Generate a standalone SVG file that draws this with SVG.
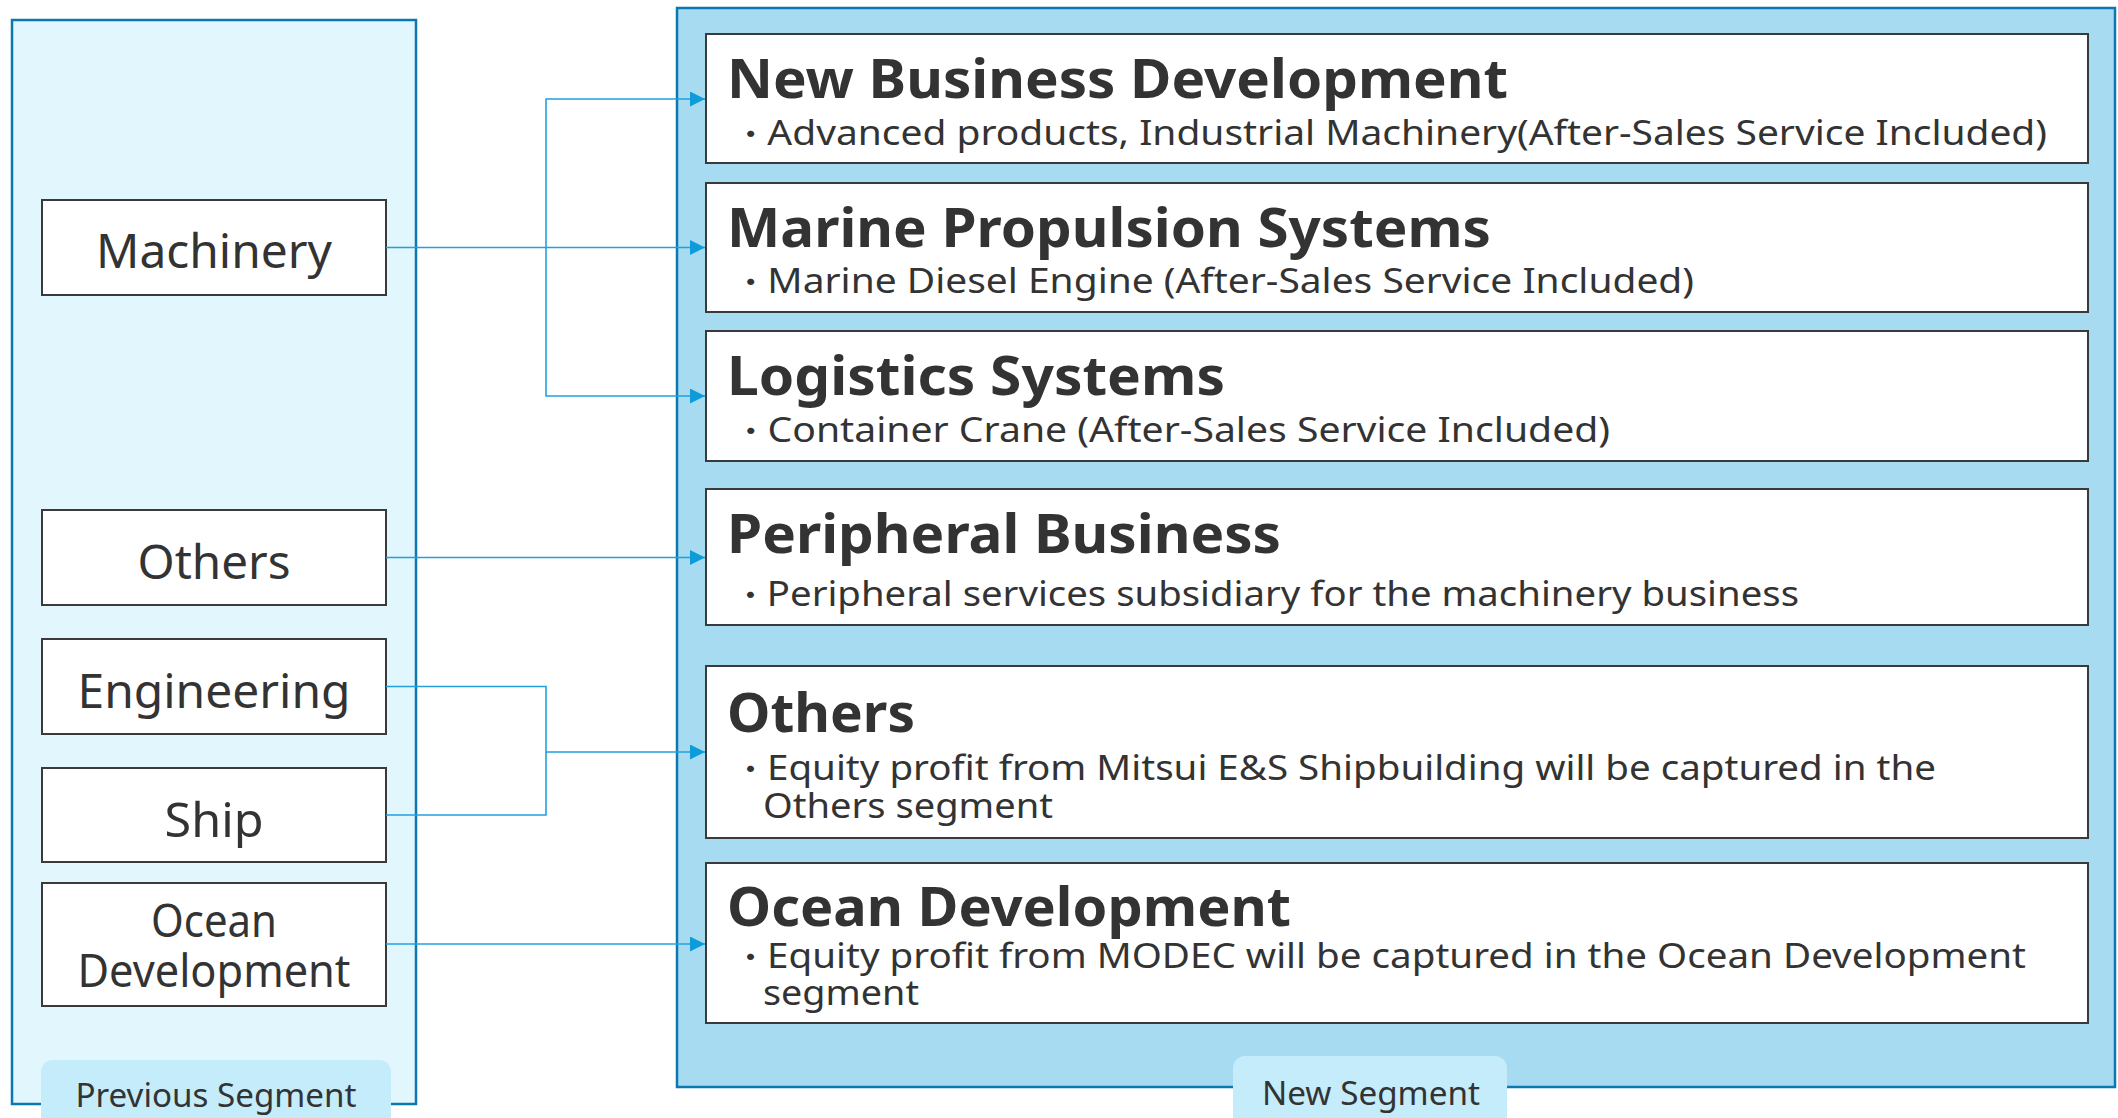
<svg xmlns="http://www.w3.org/2000/svg" width="2118" height="1118" viewBox="0 0 2118 1118">
<defs>
<style>
.panelL{fill:#E1F6FD;stroke:#0C78B1;stroke-width:2.5}
.panelR{fill:#A6DBF2;stroke:#0C78B1;stroke-width:2.5}
.tab{fill:#C4ECFB;stroke:none}
.box{fill:#FFFFFF;stroke:#3A3A3A;stroke-width:2}
.lbl{font-family:"Noto Sans","Noto Sans CJK JP",sans-serif;fill:#333333;text-anchor:middle}
.title{font-family:"Noto Sans","Noto Sans CJK JP",sans-serif;font-weight:bold;font-size:54px;fill:#333333}
.sub{font-family:"Noto Sans","Noto Sans CJK JP",sans-serif;font-size:35px;fill:#333333}
.bul{font-size:30px}
.tabt{font-family:"Noto Sans","Noto Sans CJK JP",sans-serif;font-size:32px;fill:#333333;text-anchor:middle}
.conn{fill:none;stroke:#23A0DC;stroke-width:1.6}
</style>
<marker id="arr" markerUnits="userSpaceOnUse" markerWidth="16" markerHeight="16" refX="15" refY="7.5" orient="auto">
<path d="M0,0 L15,7.5 L0,15 Z" fill="#0E9BD9"/>
</marker>
</defs>
<rect width="2118" height="1118" fill="#FFFFFF"/>

<g id="previous-segment">
<rect class="panelL" x="12" y="20" width="404" height="1084"/>
<rect class="tab" x="41" y="1060" width="350" height="80" rx="12"/>
<text class="tabt" x="216" y="1107" textLength="281" lengthAdjust="spacingAndGlyphs">Previous Segment</text>
</g>

<g id="new-segment">
<rect class="panelR" x="677" y="8" width="1438" height="1079"/>
<rect class="tab" x="1233" y="1056" width="274" height="84" rx="12"/>
<text class="tabt" x="1371" y="1105" textLength="218" lengthAdjust="spacingAndGlyphs">New Segment</text>
</g>

<g id="old-machinery">
<rect class="box" x="42" y="200" width="344" height="95"/>
<text class="lbl" x="214" y="268" font-size="48" textLength="236" lengthAdjust="spacingAndGlyphs">Machinery</text>
</g>
<g id="old-others">
<rect class="box" x="42" y="510" width="344" height="95"/>
<text class="lbl" x="214" y="579" font-size="48" textLength="153" lengthAdjust="spacingAndGlyphs">Others</text>
</g>
<g id="old-engineering">
<rect class="box" x="42" y="639" width="344" height="95"/>
<text class="lbl" x="214" y="708" font-size="48" textLength="273" lengthAdjust="spacingAndGlyphs">Engineering</text>
</g>
<g id="old-ship">
<rect class="box" x="42" y="768" width="344" height="94"/>
<text class="lbl" x="214" y="837" font-size="48" textLength="99" lengthAdjust="spacingAndGlyphs">Ship</text>
</g>
<g id="old-ocean-development">
<rect class="box" x="42" y="883" width="344" height="123"/>
<text class="lbl" font-size="45"><tspan x="214" y="937" textLength="126" lengthAdjust="spacingAndGlyphs">Ocean</tspan><tspan x="214" y="987" textLength="273" lengthAdjust="spacingAndGlyphs">Development</tspan></text>
</g>

<g id="new-business-development">
<rect class="box" x="706" y="34" width="1382" height="129"/>
<text class="title" x="727" y="98" textLength="781" lengthAdjust="spacingAndGlyphs">New Business Development</text>
<text class="sub" x="734" y="145" textLength="1313" lengthAdjust="spacingAndGlyphs"><tspan class="bul">・</tspan>Advanced products, Industrial Machinery(After-Sales Service Included)</text>
</g>
<g id="marine-propulsion-systems">
<rect class="box" x="706" y="183" width="1382" height="129"/>
<text class="title" x="727" y="247" textLength="764" lengthAdjust="spacingAndGlyphs">Marine Propulsion Systems</text>
<text class="sub" x="734" y="293" textLength="960" lengthAdjust="spacingAndGlyphs"><tspan class="bul">・</tspan>Marine Diesel Engine (After-Sales Service Included)</text>
</g>
<g id="logistics-systems">
<rect class="box" x="706" y="331" width="1382" height="130"/>
<text class="title" x="727" y="395" textLength="498" lengthAdjust="spacingAndGlyphs">Logistics Systems</text>
<text class="sub" x="734" y="442" textLength="876" lengthAdjust="spacingAndGlyphs"><tspan class="bul">・</tspan>Container Crane (After-Sales Service Included)</text>
</g>
<g id="peripheral-business">
<rect class="box" x="706" y="489" width="1382" height="136"/>
<text class="title" x="727" y="553" textLength="554" lengthAdjust="spacingAndGlyphs">Peripheral Business</text>
<text class="sub" x="734" y="606" textLength="1065" lengthAdjust="spacingAndGlyphs"><tspan class="bul">・</tspan>Peripheral services subsidiary for the machinery business</text>
</g>
<g id="new-others">
<rect class="box" x="706" y="666" width="1382" height="172"/>
<text class="title" x="727" y="732" textLength="188" lengthAdjust="spacingAndGlyphs">Others</text>
<text class="sub" x="734" y="780" textLength="1202" lengthAdjust="spacingAndGlyphs"><tspan class="bul">・</tspan>Equity profit from Mitsui E&amp;S Shipbuilding will be captured in the</text>
<text class="sub" x="763" y="818" textLength="290" lengthAdjust="spacingAndGlyphs">Others segment</text>
</g>
<g id="new-ocean-development">
<rect class="box" x="706" y="863" width="1382" height="160"/>
<text class="title" x="727" y="926" textLength="564" lengthAdjust="spacingAndGlyphs">Ocean Development</text>
<text class="sub" x="734" y="968" textLength="1292" lengthAdjust="spacingAndGlyphs"><tspan class="bul">・</tspan>Equity profit from MODEC will be captured in the Ocean Development</text>
<text class="sub" x="763" y="1005" textLength="156" lengthAdjust="spacingAndGlyphs">segment</text>
</g>

<g id="connectors">
<path class="conn" d="M386,247.5 H705" marker-end="url(#arr)"/>
<path class="conn" d="M546,247.5 V99 H705" marker-end="url(#arr)"/>
<path class="conn" d="M546,247.5 V396 H705" marker-end="url(#arr)"/>
<path class="conn" d="M386,557.5 H705" marker-end="url(#arr)"/>
<path class="conn" d="M386,686.5 H546 V752 H705" marker-end="url(#arr)"/>
<path class="conn" d="M386,815 H546 V752"/>
<path class="conn" d="M386,944 H705" marker-end="url(#arr)"/>
</g>
</svg>
